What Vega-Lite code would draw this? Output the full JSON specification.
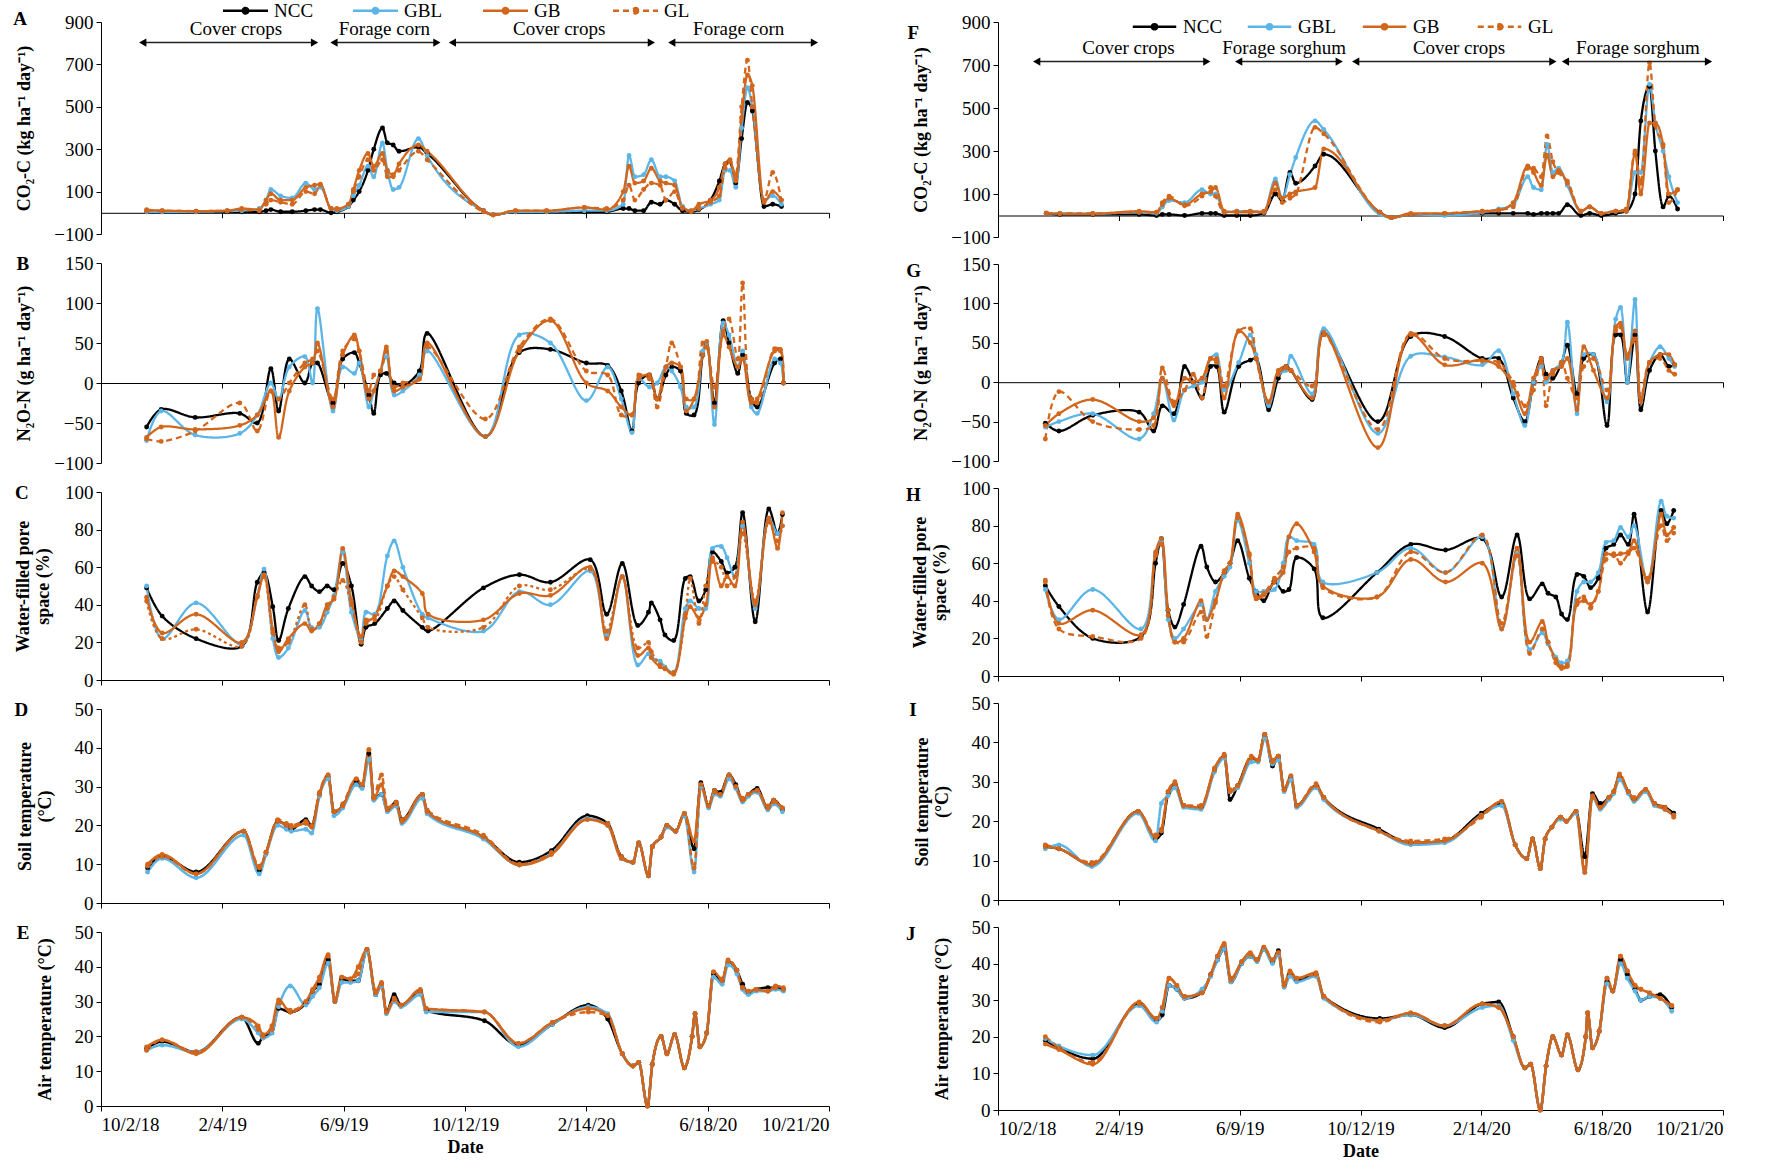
{
"$schema": "https://vega.github.io/schema/vega-lite/v6.json",
"background": "white",
"padding": {"left": 13, "top": 1, "right": 0, "bottom": 0},
"config": {
 "view": {"stroke": null},
 "font": "Liberation Serif",
 "axis": {"grid": false, "domainColor": "#000", "tickColor": "#000", "labelColor": "#000", "titleColor": "#000", "labelFont": "Liberation Serif", "titleFont": "Liberation Serif", "labelFontSize": 19, "titleFontSize": 18, "titleFontWeight": "bold", "tickSize": 5, "labelPadding": 3, "titlePadding": 20},
 "title": {"font": "Liberation Serif", "fontSize": 19, "fontWeight": "bold", "color": "#000"},
 "text": {"font": "Liberation Serif"}
},
"datasets": {
"ann": [
 {"p":"A","s":"2018-11-14","e":"2019-05-10","m":"2019-02-18","y":803,"ty":866,"t":"Cover crops"},
 {"p":"A","s":"2019-05-30","e":"2019-09-13","m":"2019-07-21","y":803,"ty":866,"t":"Forage corn"},
 {"p":"A","s":"2019-09-29","e":"2020-04-21","m":"2020-01-17","y":803,"ty":866,"t":"Cover crops"},
 {"p":"A","s":"2020-05-12","e":"2020-10-06","m":"2020-07-20","y":803,"ty":866,"t":"Forage corn"},
 {"p":"F","s":"2018-11-11","e":"2019-05-06","m":"2019-02-14","y":716,"ty":781,"t":"Cover crops"},
 {"p":"F","s":"2019-06-08","e":"2019-09-20","m":"2019-07-25","y":716,"ty":781,"t":"Forage sorghum"},
 {"p":"F","s":"2019-10-07","e":"2020-04-28","m":"2020-01-22","y":716,"ty":781,"t":"Cover crops"},
 {"p":"F","s":"2020-05-11","e":"2020-10-06","m":"2020-07-25","y":716,"ty":781,"t":"Forage sorghum"}
],
"m": [
{"p":"A","d":"2018-11-18","NCC":5,"GBL":5,"GB":15,"GL":10},
{"p":"A","d":"2018-12-04","NCC":5,"GBL":5,"GB":10,"GL":10},
{"p":"A","d":"2019-01-08","NCC":5,"GBL":5,"GB":8,"GL":8},
{"p":"A","d":"2019-02-09","NCC":5,"GBL":8,"GB":10,"GL":10},
{"p":"A","d":"2019-02-24","NCC":5,"GBL":10,"GB":20,"GL":15},
{"p":"A","d":"2019-03-14","NCC":5,"GBL":20,"GB":15,"GL":10},
{"p":"A","d":"2019-03-21","NCC":10,"GBL":60,"GB":60,"GL":40},
{"p":"A","d":"2019-03-26","NCC":15,"GBL":110,"GB":90,"GL":60},
{"p":"A","d":"2019-04-05","NCC":5,"GBL":80,"GB":60,"GL":50},
{"p":"A","d":"2019-04-17","NCC":5,"GBL":70,"GB":60,"GL":40},
{"p":"A","d":"2019-05-01","NCC":10,"GBL":140,"GB":120,"GL":100},
{"p":"A","d":"2019-05-10","NCC":15,"GBL":110,"GB":130,"GL":90},
{"p":"A","d":"2019-05-16","NCC":15,"GBL":120,"GB":135,"GL":130},
{"p":"A","d":"2019-05-27","NCC":0,"GBL":20,"GB":20,"GL":20},
{"p":"A","d":"2019-06-02","NCC":5,"GBL":10,"GB":20,"GL":15},
{"p":"A","d":"2019-06-14","NCC":30,"GBL":30,"GB":40,"GL":40},
{"p":"A","d":"2019-06-19","NCC":60,"GBL":80,"GB":110,"GL":100},
{"p":"A","d":"2019-06-25","NCC":100,"GBL":130,"GB":200,"GL":170},
{"p":"A","d":"2019-07-04","NCC":200,"GBL":220,"GB":280,"GL":250},
{"p":"A","d":"2019-07-10","NCC":300,"GBL":170,"GB":220,"GL":200},
{"p":"A","d":"2019-07-19","NCC":400,"GBL":330,"GB":280,"GL":250},
{"p":"A","d":"2019-07-24","NCC":330,"GBL":200,"GB":200,"GL":170},
{"p":"A","d":"2019-07-30","NCC":320,"GBL":110,"GB":180,"GL":170},
{"p":"A","d":"2019-08-05","NCC":290,"GBL":120,"GB":230,"GL":200},
{"p":"A","d":"2019-08-25","NCC":310,"GBL":350,"GB":320,"GL":290},
{"p":"A","d":"2019-09-03","NCC":280,"GBL":270,"GB":290,"GL":250},
{"p":"A","d":"2019-10-31","NCC":10,"GBL":10,"GB":10,"GL":5},
{"p":"A","d":"2019-11-10","NCC":-10,"GBL":-10,"GB":-10,"GL":-10},
{"p":"A","d":"2019-12-03","NCC":5,"GBL":5,"GB":10,"GL":10},
{"p":"A","d":"2020-01-04","NCC":5,"GBL":5,"GB":10,"GL":10},
{"p":"A","d":"2020-02-12","NCC":5,"GBL":10,"GB":25,"GL":25},
{"p":"A","d":"2020-03-06","NCC":5,"GBL":10,"GB":15,"GL":20},
{"p":"A","d":"2020-03-23","NCC":20,"GBL":40,"GB":100,"GL":60},
{"p":"A","d":"2020-03-29","NCC":20,"GBL":270,"GB":220,"GL":130},
{"p":"A","d":"2020-04-04","NCC":10,"GBL":170,"GB":140,"GL":60},
{"p":"A","d":"2020-04-13","NCC":10,"GBL":180,"GB":150,"GL":110},
{"p":"A","d":"2020-04-21","NCC":50,"GBL":250,"GB":210,"GL":140},
{"p":"A","d":"2020-04-30","NCC":40,"GBL":170,"GB":150,"GL":130},
{"p":"A","d":"2020-05-06","NCC":60,"GBL":170,"GB":140,"GL":60},
{"p":"A","d":"2020-05-15","NCC":40,"GBL":150,"GB":130,"GL":100},
{"p":"A","d":"2020-05-23","NCC":10,"GBL":30,"GB":25,"GL":20},
{"p":"A","d":"2020-06-01","NCC":5,"GBL":10,"GB":10,"GL":5},
{"p":"A","d":"2020-06-09","NCC":15,"GBL":20,"GB":40,"GL":20},
{"p":"A","d":"2020-06-21","NCC":60,"GBL":40,"GB":60,"GL":50},
{"p":"A","d":"2020-06-30","NCC":150,"GBL":60,"GB":120,"GL":80},
{"p":"A","d":"2020-07-06","NCC":230,"GBL":200,"GB":230,"GL":210},
{"p":"A","d":"2020-07-11","NCC":240,"GBL":200,"GB":250,"GL":240},
{"p":"A","d":"2020-07-17","NCC":140,"GBL":120,"GB":150,"GL":180},
{"p":"A","d":"2020-07-23","NCC":350,"GBL":400,"GB":450,"GL":500},
{"p":"A","d":"2020-07-29","NCC":520,"GBL":590,"GB":650,"GL":720},
{"p":"A","d":"2020-08-03","NCC":480,"GBL":500,"GB":600,"GL":500},
{"p":"A","d":"2020-08-15","NCC":30,"GBL":60,"GB":50,"GL":60},
{"p":"A","d":"2020-08-24","NCC":40,"GBL":80,"GB":100,"GL":190},
{"p":"A","d":"2020-09-02","NCC":30,"GBL":40,"GB":60,"GL":60},

{"p":"B","d":"2018-11-18","NCC":-55,"GBL":-72,"GB":-68,"GL":-70},
{"p":"B","d":"2018-12-03","NCC":-33,"GBL":-35,"GB":-55,"GL":-73},
{"p":"B","d":"2019-01-07","NCC":-43,"GBL":-65,"GB":-58,"GL":-60},
{"p":"B","d":"2019-02-22","NCC":-38,"GBL":-63,"GB":-53,"GL":-25},
{"p":"B","d":"2019-03-12","NCC":-50,"GBL":-40,"GB":-40,"GL":-60},
{"p":"B","d":"2019-03-26","NCC":18,"GBL":0,"GB":-10,"GL":-10},
{"p":"B","d":"2019-04-03","NCC":-35,"GBL":-20,"GB":-68,"GL":-20},
{"p":"B","d":"2019-04-14","NCC":30,"GBL":20,"GB":-10,"GL":0},
{"p":"B","d":"2019-04-30","NCC":0,"GBL":33,"GB":20,"GL":25},
{"p":"B","d":"2019-05-08","NCC":25,"GBL":0,"GB":25,"GL":30},
{"p":"B","d":"2019-05-13","NCC":25,"GBL":93,"GB":50,"GL":40},
{"p":"B","d":"2019-05-29","NCC":-25,"GBL":-35,"GB":-30,"GL":-20},
{"p":"B","d":"2019-06-08","NCC":30,"GBL":20,"GB":35,"GL":40},
{"p":"B","d":"2019-06-20","NCC":38,"GBL":12,"GB":60,"GL":55},
{"p":"B","d":"2019-06-25","NCC":25,"GBL":25,"GB":40,"GL":40},
{"p":"B","d":"2019-07-05","NCC":-15,"GBL":-30,"GB":-20,"GL":-10},
{"p":"B","d":"2019-07-10","NCC":-38,"GBL":-10,"GB":-10,"GL":10},
{"p":"B","d":"2019-07-17","NCC":10,"GBL":15,"GB":15,"GL":15},
{"p":"B","d":"2019-07-23","NCC":12,"GBL":33,"GB":45,"GL":40},
{"p":"B","d":"2019-07-31","NCC":0,"GBL":-15,"GB":-10,"GL":-5},
{"p":"B","d":"2019-08-09","NCC":-3,"GBL":-10,"GB":-5,"GL":0},
{"p":"B","d":"2019-08-26","NCC":15,"GBL":10,"GB":5,"GL":5},
{"p":"B","d":"2019-09-03","NCC":62,"GBL":40,"GB":50,"GL":45},
{"p":"B","d":"2019-11-02","NCC":-67,"GBL":-67,"GB":-67,"GL":-45},
{"p":"B","d":"2019-12-07","NCC":38,"GBL":60,"GB":40,"GL":45},
{"p":"B","d":"2020-01-08","NCC":42,"GBL":50,"GB":78,"GL":80},
{"p":"B","d":"2020-02-14","NCC":25,"GBL":-22,"GB":0,"GL":15},
{"p":"B","d":"2020-03-07","NCC":22,"GBL":20,"GB":-10,"GL":10},
{"p":"B","d":"2020-03-21","NCC":-10,"GBL":-20,"GB":-30,"GL":-40},
{"p":"B","d":"2020-04-01","NCC":-60,"GBL":-62,"GB":-40,"GL":-40},
{"p":"B","d":"2020-04-08","NCC":0,"GBL":5,"GB":5,"GL":10},
{"p":"B","d":"2020-04-19","NCC":10,"GBL":-5,"GB":10,"GL":5},
{"p":"B","d":"2020-04-27","NCC":-20,"GBL":0,"GB":-20,"GL":-30},
{"p":"B","d":"2020-05-06","NCC":10,"GBL":20,"GB":20,"GL":20},
{"p":"B","d":"2020-05-12","NCC":20,"GBL":15,"GB":25,"GL":50},
{"p":"B","d":"2020-05-21","NCC":15,"GBL":-5,"GB":20,"GL":20},
{"p":"B","d":"2020-05-27","NCC":-38,"GBL":-30,"GB":-35,"GL":-20},
{"p":"B","d":"2020-06-04","NCC":-40,"GBL":-30,"GB":-20,"GL":-20},
{"p":"B","d":"2020-06-13","NCC":35,"GBL":40,"GB":35,"GL":50},
{"p":"B","d":"2020-06-17","NCC":50,"GBL":50,"GB":52,"GL":45},
{"p":"B","d":"2020-06-25","NCC":-25,"GBL":-52,"GB":-30,"GL":-5},
{"p":"B","d":"2020-07-04","NCC":78,"GBL":75,"GB":60,"GL":65},
{"p":"B","d":"2020-07-10","NCC":50,"GBL":60,"GB":45,"GL":80},
{"p":"B","d":"2020-07-19","NCC":12,"GBL":20,"GB":20,"GL":30},
{"p":"B","d":"2020-07-24","NCC":35,"GBL":40,"GB":30,"GL":125},
{"p":"B","d":"2020-08-02","NCC":-20,"GBL":-30,"GB":-25,"GL":-20},
{"p":"B","d":"2020-08-08","NCC":-30,"GBL":-38,"GB":-20,"GL":-25},
{"p":"B","d":"2020-08-26","NCC":25,"GBL":30,"GB":40,"GL":43},
{"p":"B","d":"2020-09-01","NCC":30,"GBL":25,"GB":40,"GL":42},
{"p":"B","d":"2020-09-04","NCC":0,"GBL":0,"GB":0,"GL":0},

{"p":"C","d":"2018-11-18","NCC":49,"GBL":50,"GB":44,"GL":42},
{"p":"C","d":"2018-12-04","NCC":34,"GBL":22,"GB":25,"GL":22},
{"p":"C","d":"2019-01-08","NCC":22,"GBL":41,"GB":35,"GL":27},
{"p":"C","d":"2019-02-24","NCC":18,"GBL":19,"GB":20,"GL":18},
{"p":"C","d":"2019-03-12","NCC":52,"GBL":45,"GB":44,"GL":45},
{"p":"C","d":"2019-03-19","NCC":57,"GBL":59,"GB":56,"GL":55},
{"p":"C","d":"2019-03-28","NCC":39,"GBL":22,"GB":27,"GL":25},
{"p":"C","d":"2019-04-03","NCC":21,"GBL":12,"GB":15,"GL":17},
{"p":"C","d":"2019-04-13","NCC":38,"GBL":17,"GB":22,"GL":20},
{"p":"C","d":"2019-04-30","NCC":55,"GBL":37,"GB":30,"GL":40},
{"p":"C","d":"2019-05-07","NCC":50,"GBL":28,"GB":26,"GL":27},
{"p":"C","d":"2019-05-15","NCC":47,"GBL":28,"GB":30,"GL":30},
{"p":"C","d":"2019-05-23","NCC":50,"GBL":36,"GB":40,"GL":38},
{"p":"C","d":"2019-05-30","NCC":48,"GBL":45,"GB":43,"GL":44},
{"p":"C","d":"2019-06-08","NCC":62,"GBL":68,"GB":70,"GL":53},
{"p":"C","d":"2019-06-17","NCC":50,"GBL":36,"GB":42,"GL":40},
{"p":"C","d":"2019-06-27","NCC":19,"GBL":22,"GB":23,"GL":20},
{"p":"C","d":"2019-07-02","NCC":28,"GBL":36,"GB":30,"GL":32},
{"p":"C","d":"2019-07-11","NCC":30,"GBL":35,"GB":34,"GL":32},
{"p":"C","d":"2019-07-24","NCC":38,"GBL":66,"GB":50,"GL":50},
{"p":"C","d":"2019-07-31","NCC":42,"GBL":74,"GB":58,"GL":55},
{"p":"C","d":"2019-08-09","NCC":37,"GBL":60,"GB":55,"GL":48},
{"p":"C","d":"2019-08-29","NCC":28,"GBL":35,"GB":46,"GL":33},
{"p":"C","d":"2019-09-04","NCC":26,"GBL":33,"GB":35,"GL":28},
{"p":"C","d":"2019-10-31","NCC":49,"GBL":26,"GB":32,"GL":28},
{"p":"C","d":"2019-12-07","NCC":56,"GBL":47,"GB":46,"GL":50},
{"p":"C","d":"2020-01-08","NCC":52,"GBL":40,"GB":45,"GL":48},
{"p":"C","d":"2020-02-18","NCC":64,"GBL":58,"GB":60,"GL":59},
{"p":"C","d":"2020-03-06","NCC":35,"GBL":24,"GB":22,"GL":26},
{"p":"C","d":"2020-03-22","NCC":62,"GBL":55,"GB":55,"GL":55},
{"p":"C","d":"2020-04-07","NCC":29,"GBL":8,"GB":13,"GL":17},
{"p":"C","d":"2020-04-18","NCC":36,"GBL":14,"GB":17,"GL":20},
{"p":"C","d":"2020-04-21","NCC":41,"GBL":12,"GB":12,"GL":15},
{"p":"C","d":"2020-04-30","NCC":32,"GBL":10,"GB":7,"GL":8},
{"p":"C","d":"2020-05-05","NCC":24,"GBL":7,"GB":6,"GL":6},
{"p":"C","d":"2020-05-14","NCC":21,"GBL":4,"GB":3,"GL":4},
{"p":"C","d":"2020-05-26","NCC":54,"GBL":38,"GB":33,"GL":35},
{"p":"C","d":"2020-05-31","NCC":55,"GBL":42,"GB":39,"GL":54},
{"p":"C","d":"2020-06-09","NCC":42,"GBL":38,"GB":33,"GL":30},
{"p":"C","d":"2020-06-16","NCC":48,"GBL":38,"GB":40,"GL":50},
{"p":"C","d":"2020-06-23","NCC":68,"GBL":70,"GB":65,"GL":63},
{"p":"C","d":"2020-07-02","NCC":63,"GBL":71,"GB":50,"GL":60},
{"p":"C","d":"2020-07-08","NCC":57,"GBL":65,"GB":55,"GL":50},
{"p":"C","d":"2020-07-16","NCC":60,"GBL":55,"GB":50,"GL":55},
{"p":"C","d":"2020-07-24","NCC":89,"GBL":82,"GB":84,"GL":78},
{"p":"C","d":"2020-08-06","NCC":31,"GBL":38,"GB":40,"GL":42},
{"p":"C","d":"2020-08-20","NCC":91,"GBL":86,"GB":86,"GL":84},
{"p":"C","d":"2020-08-29","NCC":78,"GBL":78,"GB":70,"GL":74},
{"p":"C","d":"2020-09-03","NCC":88,"GBL":82,"GB":89,"GL":82},

{"p":"D","d":"2018-11-19","NCC":9,"GBL":8,"GB":10,"GL":9.5},
{"p":"D","d":"2018-12-04","NCC":12,"GBL":11.5,"GB":12.5,"GL":12},
{"p":"D","d":"2019-01-08","NCC":8,"GBL":6.5,"GB":7.5,"GL":7.5},
{"p":"D","d":"2019-02-26","NCC":18.5,"GBL":17.5,"GB":18.5,"GL":18.5},
{"p":"D","d":"2019-03-14","NCC":8.5,"GBL":7.5,"GB":9,"GL":9.5},
{"p":"D","d":"2019-03-21","NCC":13,"GBL":12.5,"GB":13,"GL":13},
{"p":"D","d":"2019-04-02","NCC":21,"GBL":20,"GB":21,"GL":21.5},
{"p":"D","d":"2019-04-11","NCC":20,"GBL":19,"GB":20,"GL":20.5},
{"p":"D","d":"2019-04-16","NCC":19,"GBL":18.5,"GB":19.5,"GL":20},
{"p":"D","d":"2019-05-01","NCC":21.5,"GBL":19,"GB":20.5,"GL":21},
{"p":"D","d":"2019-05-07","NCC":20,"GBL":18,"GB":19.5,"GL":20},
{"p":"D","d":"2019-05-15","NCC":28,"GBL":27.5,"GB":28,"GL":28.5},
{"p":"D","d":"2019-05-24","NCC":32.5,"GBL":32,"GB":33,"GL":33},
{"p":"D","d":"2019-05-30","NCC":23.5,"GBL":22.5,"GB":23.5,"GL":23.5},
{"p":"D","d":"2019-06-08","NCC":25,"GBL":24.5,"GB":25,"GL":25.5},
{"p":"D","d":"2019-06-22","NCC":31.5,"GBL":30.5,"GB":32,"GL":32},
{"p":"D","d":"2019-06-28","NCC":30,"GBL":29.5,"GB":30.5,"GL":30.5},
{"p":"D","d":"2019-07-05","NCC":38.5,"GBL":37,"GB":39.5,"GL":39.5},
{"p":"D","d":"2019-07-10","NCC":27,"GBL":26.5,"GB":27,"GL":27.5},
{"p":"D","d":"2019-07-18","NCC":28,"GBL":28,"GB":30.5,"GL":33},
{"p":"D","d":"2019-07-24","NCC":24,"GBL":23.5,"GB":24,"GL":24.5},
{"p":"D","d":"2019-08-02","NCC":26,"GBL":25,"GB":25.5,"GL":26},
{"p":"D","d":"2019-08-08","NCC":21.5,"GBL":20.5,"GB":21,"GL":21.5},
{"p":"D","d":"2019-08-29","NCC":28,"GBL":27,"GB":28,"GL":28},
{"p":"D","d":"2019-09-03","NCC":23.5,"GBL":23,"GB":23.5,"GL":24},
{"p":"D","d":"2019-10-31","NCC":17,"GBL":16.5,"GB":17,"GL":17.5},
{"p":"D","d":"2019-12-07","NCC":10.5,"GBL":9.8,"GB":9.8,"GL":10},
{"p":"D","d":"2020-01-09","NCC":13.5,"GBL":12.8,"GB":12.5,"GL":13},
{"p":"D","d":"2020-02-15","NCC":22.5,"GBL":21.8,"GB":21.5,"GL":21.5},
{"p":"D","d":"2020-03-07","NCC":20.5,"GBL":20,"GB":20,"GL":20.5},
{"p":"D","d":"2020-03-21","NCC":12,"GBL":11.5,"GB":11.5,"GL":12},
{"p":"D","d":"2020-04-02","NCC":10.5,"GBL":10.5,"GB":10.5,"GL":10.5},
{"p":"D","d":"2020-04-08","NCC":15.5,"GBL":15.5,"GB":15.5,"GL":15.5},
{"p":"D","d":"2020-04-18","NCC":7,"GBL":7,"GB":7,"GL":7},
{"p":"D","d":"2020-04-22","NCC":14.5,"GBL":14.5,"GB":14.5,"GL":14.5},
{"p":"D","d":"2020-05-01","NCC":17,"GBL":17,"GB":17,"GL":17},
{"p":"D","d":"2020-05-07","NCC":20,"GBL":19.5,"GB":20,"GL":20},
{"p":"D","d":"2020-05-16","NCC":18.5,"GBL":18.5,"GB":18.5,"GL":18.5},
{"p":"D","d":"2020-05-25","NCC":23,"GBL":22.5,"GB":23,"GL":23},
{"p":"D","d":"2020-06-04","NCC":14,"GBL":8,"GB":16,"GL":9},
{"p":"D","d":"2020-06-11","NCC":31,"GBL":30,"GB":30.5,"GL":30.5},
{"p":"D","d":"2020-06-19","NCC":25,"GBL":24.5,"GB":25,"GL":25},
{"p":"D","d":"2020-06-25","NCC":29,"GBL":28,"GB":29,"GL":28.5},
{"p":"D","d":"2020-07-01","NCC":28.5,"GBL":27.5,"GB":28,"GL":28},
{"p":"D","d":"2020-07-10","NCC":33,"GBL":32,"GB":33,"GL":33},
{"p":"D","d":"2020-07-17","NCC":30.5,"GBL":29.5,"GB":30,"GL":30},
{"p":"D","d":"2020-07-24","NCC":26.5,"GBL":26,"GB":26.5,"GL":27},
{"p":"D","d":"2020-07-30","NCC":28,"GBL":27.5,"GB":28,"GL":28},
{"p":"D","d":"2020-08-08","NCC":29.5,"GBL":28.5,"GB":29,"GL":29},
{"p":"D","d":"2020-08-19","NCC":24.5,"GBL":24,"GB":24.5,"GL":25},
{"p":"D","d":"2020-08-25","NCC":26.5,"GBL":25.5,"GB":26,"GL":26.5},
{"p":"D","d":"2020-09-03","NCC":24,"GBL":23.5,"GB":24.5,"GL":24.5},

{"p":"E","d":"2018-11-18","NCC":16.5,"GBL":16,"GB":17,"GL":16},
{"p":"E","d":"2018-12-04","NCC":18.5,"GBL":17.5,"GB":19,"GL":19},
{"p":"E","d":"2019-01-08","NCC":15.5,"GBL":15.5,"GB":15,"GL":15.5},
{"p":"E","d":"2019-02-24","NCC":25.5,"GBL":25,"GB":25.5,"GL":25.5},
{"p":"E","d":"2019-03-13","NCC":18,"GBL":21,"GB":23,"GL":22},
{"p":"E","d":"2019-03-18","NCC":20,"GBL":19.5,"GB":20.5,"GL":20},
{"p":"E","d":"2019-03-27","NCC":21,"GBL":21,"GB":23,"GL":22},
{"p":"E","d":"2019-04-03","NCC":28,"GBL":28.5,"GB":30.5,"GL":29.5},
{"p":"E","d":"2019-04-15","NCC":27,"GBL":34.5,"GB":27,"GL":27.5},
{"p":"E","d":"2019-05-01","NCC":29.5,"GBL":29,"GB":30,"GL":30},
{"p":"E","d":"2019-05-08","NCC":33,"GBL":31.5,"GB":33.5,"GL":33},
{"p":"E","d":"2019-05-15","NCC":35,"GBL":34,"GB":37,"GL":36},
{"p":"E","d":"2019-05-24","NCC":42,"GBL":41,"GB":43.5,"GL":43},
{"p":"E","d":"2019-05-31","NCC":30,"GBL":30,"GB":30.5,"GL":30},
{"p":"E","d":"2019-06-07","NCC":36.5,"GBL":35.5,"GB":37,"GL":37},
{"p":"E","d":"2019-06-16","NCC":36,"GBL":35.5,"GB":36.5,"GL":36.5},
{"p":"E","d":"2019-06-24","NCC":36,"GBL":36,"GB":40,"GL":38},
{"p":"E","d":"2019-07-03","NCC":45,"GBL":44.5,"GB":45,"GL":45},
{"p":"E","d":"2019-07-12","NCC":32,"GBL":32,"GB":33,"GL":32.5},
{"p":"E","d":"2019-07-18","NCC":35,"GBL":34.5,"GB":35.5,"GL":35},
{"p":"E","d":"2019-07-23","NCC":27,"GBL":26.5,"GB":27,"GL":27},
{"p":"E","d":"2019-07-31","NCC":32,"GBL":30,"GB":30.5,"GL":31},
{"p":"E","d":"2019-08-07","NCC":29,"GBL":28.5,"GB":29,"GL":29},
{"p":"E","d":"2019-08-27","NCC":33,"GBL":32,"GB":33.5,"GL":33},
{"p":"E","d":"2019-09-02","NCC":27.5,"GBL":27,"GB":28,"GL":28},
{"p":"E","d":"2019-11-01","NCC":24.5,"GBL":27,"GB":27,"GL":27},
{"p":"E","d":"2019-12-06","NCC":17.5,"GBL":17,"GB":18,"GL":18},
{"p":"E","d":"2020-01-10","NCC":23.5,"GBL":23.5,"GB":24,"GL":24},
{"p":"E","d":"2020-02-16","NCC":29,"GBL":28.5,"GB":28,"GL":27},
{"p":"E","d":"2020-03-07","NCC":25,"GBL":26.5,"GB":26,"GL":26},
{"p":"E","d":"2020-03-22","NCC":15,"GBL":15,"GB":15,"GL":15},
{"p":"E","d":"2020-04-02","NCC":11.5,"GBL":11.5,"GB":11.5,"GL":11.5},
{"p":"E","d":"2020-04-08","NCC":12.5,"GBL":12.5,"GB":12.5,"GL":12.5},
{"p":"E","d":"2020-04-17","NCC":0,"GBL":0,"GB":0,"GL":0},
{"p":"E","d":"2020-04-22","NCC":12,"GBL":12,"GB":12,"GL":12},
{"p":"E","d":"2020-05-01","NCC":20,"GBL":20,"GB":20,"GL":20},
{"p":"E","d":"2020-05-07","NCC":15,"GBL":15,"GB":15,"GL":15},
{"p":"E","d":"2020-05-15","NCC":20.5,"GBL":20.5,"GB":20.5,"GL":20.5},
{"p":"E","d":"2020-05-25","NCC":11,"GBL":11,"GB":11,"GL":11},
{"p":"E","d":"2020-06-02","NCC":20,"GBL":20,"GB":20,"GL":20},
{"p":"E","d":"2020-06-05","NCC":26.5,"GBL":26.5,"GB":26.5,"GL":26.5},
{"p":"E","d":"2020-06-10","NCC":17,"GBL":17,"GB":17,"GL":17},
{"p":"E","d":"2020-06-17","NCC":21,"GBL":21,"GB":21,"GL":21},
{"p":"E","d":"2020-06-24","NCC":38,"GBL":37,"GB":38.5,"GL":38.5},
{"p":"E","d":"2020-07-03","NCC":36,"GBL":35,"GB":36.5,"GL":36},
{"p":"E","d":"2020-07-09","NCC":41.5,"GBL":40.5,"GB":41.5,"GL":42},
{"p":"E","d":"2020-07-18","NCC":39,"GBL":38,"GB":39,"GL":39},
{"p":"E","d":"2020-07-24","NCC":35,"GBL":33.5,"GB":34,"GL":34},
{"p":"E","d":"2020-07-30","NCC":32.5,"GBL":32,"GB":33,"GL":33},
{"p":"E","d":"2020-08-07","NCC":33.5,"GBL":33,"GB":33.5,"GL":33.5},
{"p":"E","d":"2020-08-19","NCC":34,"GBL":33,"GB":33,"GL":33},
{"p":"E","d":"2020-08-27","NCC":34,"GBL":33.5,"GB":34.5,"GL":34},
{"p":"E","d":"2020-09-04","NCC":33.5,"GBL":33,"GB":34,"GL":33.5},

{"p":"F","d":"2018-11-21","NCC":10,"GBL":10,"GB":12,"GL":10},
{"p":"F","d":"2018-12-05","NCC":5,"GBL":10,"GB":8,"GL":10},
{"p":"F","d":"2019-01-08","NCC":5,"GBL":8,"GB":8,"GL":10},
{"p":"F","d":"2019-02-25","NCC":5,"GBL":15,"GB":20,"GL":15},
{"p":"F","d":"2019-03-15","NCC":0,"GBL":10,"GB":15,"GL":15},
{"p":"F","d":"2019-03-21","NCC":5,"GBL":40,"GB":50,"GL":60},
{"p":"F","d":"2019-03-28","NCC":5,"GBL":70,"GB":80,"GL":90},
{"p":"F","d":"2019-04-13","NCC":0,"GBL":60,"GB":50,"GL":45},
{"p":"F","d":"2019-05-01","NCC":10,"GBL":120,"GB":100,"GL":90},
{"p":"F","d":"2019-05-10","NCC":10,"GBL":100,"GB":110,"GL":130},
{"p":"F","d":"2019-05-15","NCC":10,"GBL":100,"GB":130,"GL":90},
{"p":"F","d":"2019-05-24","NCC":0,"GBL":15,"GB":20,"GL":15},
{"p":"F","d":"2019-06-06","NCC":0,"GBL":20,"GB":15,"GL":20},
{"p":"F","d":"2019-06-20","NCC":0,"GBL":20,"GB":15,"GL":20},
{"p":"F","d":"2019-07-04","NCC":10,"GBL":15,"GB":20,"GL":15},
{"p":"F","d":"2019-07-16","NCC":100,"GBL":170,"GB":150,"GL":120},
{"p":"F","d":"2019-07-23","NCC":70,"GBL":80,"GB":80,"GL":60},
{"p":"F","d":"2019-07-31","NCC":200,"GBL":190,"GB":100,"GL":80},
{"p":"F","d":"2019-08-06","NCC":150,"GBL":270,"GB":110,"GL":100},
{"p":"F","d":"2019-08-26","NCC":230,"GBL":440,"GB":130,"GL":410},
{"p":"F","d":"2019-09-04","NCC":285,"GBL":400,"GB":310,"GL":380},
{"p":"F","d":"2019-11-01","NCC":15,"GBL":5,"GB":15,"GL":15},
{"p":"F","d":"2019-11-13","NCC":-10,"GBL":-10,"GB":-10,"GL":-10},
{"p":"F","d":"2019-12-03","NCC":5,"GBL":5,"GB":10,"GL":5},
{"p":"F","d":"2020-01-07","NCC":5,"GBL":0,"GB":10,"GL":10},
{"p":"F","d":"2020-02-15","NCC":10,"GBL":15,"GB":20,"GL":20},
{"p":"F","d":"2020-03-03","NCC":10,"GBL":30,"GB":25,"GL":25},
{"p":"F","d":"2020-03-18","NCC":10,"GBL":50,"GB":60,"GL":40},
{"p":"F","d":"2020-04-02","NCC":10,"GBL":180,"GB":230,"GL":220},
{"p":"F","d":"2020-04-08","NCC":5,"GBL":130,"GB":200,"GL":220},
{"p":"F","d":"2020-04-16","NCC":10,"GBL":120,"GB":140,"GL":180},
{"p":"F","d":"2020-04-22","NCC":10,"GBL":330,"GB":280,"GL":370},
{"p":"F","d":"2020-04-28","NCC":10,"GBL":200,"GB":180,"GL":250},
{"p":"F","d":"2020-05-04","NCC":10,"GBL":220,"GB":210,"GL":200},
{"p":"F","d":"2020-05-13","NCC":50,"GBL":140,"GB":150,"GL":160},
{"p":"F","d":"2020-05-27","NCC":0,"GBL":20,"GB":20,"GL":20},
{"p":"F","d":"2020-06-05","NCC":10,"GBL":40,"GB":40,"GL":40},
{"p":"F","d":"2020-06-17","NCC":0,"GBL":10,"GB":10,"GL":10},
{"p":"F","d":"2020-07-02","NCC":10,"GBL":20,"GB":20,"GL":20},
{"p":"F","d":"2020-07-13","NCC":20,"GBL":20,"GB":20,"GL":30},
{"p":"F","d":"2020-07-22","NCC":100,"GBL":200,"GB":290,"GL":300},
{"p":"F","d":"2020-07-28","NCC":440,"GBL":200,"GB":100,"GL":150},
{"p":"F","d":"2020-08-06","NCC":600,"GBL":610,"GB":430,"GL":710},
{"p":"F","d":"2020-08-12","NCC":300,"GBL":430,"GB":430,"GL":420},
{"p":"F","d":"2020-08-20","NCC":40,"GBL":300,"GB":330,"GL":320},
{"p":"F","d":"2020-08-26","NCC":90,"GBL":180,"GB":100,"GL":60},
{"p":"F","d":"2020-09-04","NCC":30,"GBL":60,"GB":120,"GL":120},

{"p":"G","d":"2018-11-20","NCC":-52,"GBL":-57,"GB":-55,"GL":-72},
{"p":"G","d":"2018-12-04","NCC":-62,"GBL":-50,"GB":-40,"GL":-12},
{"p":"G","d":"2019-01-08","NCC":-42,"GBL":-40,"GB":-22,"GL":-50},
{"p":"G","d":"2019-02-25","NCC":-38,"GBL":-72,"GB":-50,"GL":-60},
{"p":"G","d":"2019-03-12","NCC":-62,"GBL":-40,"GB":-45,"GL":-55},
{"p":"G","d":"2019-03-21","NCC":-30,"GBL":5,"GB":5,"GL":18},
{"p":"G","d":"2019-04-02","NCC":-40,"GBL":-48,"GB":-30,"GL":-25},
{"p":"G","d":"2019-04-13","NCC":20,"GBL":-10,"GB":5,"GL":-10},
{"p":"G","d":"2019-04-22","NCC":0,"GBL":-5,"GB":0,"GL":10},
{"p":"G","d":"2019-05-01","NCC":-20,"GBL":0,"GB":5,"GL":-20},
{"p":"G","d":"2019-05-10","NCC":20,"GBL":30,"GB":30,"GL":30},
{"p":"G","d":"2019-05-16","NCC":20,"GBL":35,"GB":25,"GL":30},
{"p":"G","d":"2019-05-24","NCC":-38,"GBL":-10,"GB":-20,"GL":-5},
{"p":"G","d":"2019-06-08","NCC":20,"GBL":25,"GB":65,"GL":65},
{"p":"G","d":"2019-06-20","NCC":28,"GBL":60,"GB":50,"GL":68},
{"p":"G","d":"2019-06-26","NCC":30,"GBL":35,"GB":30,"GL":30},
{"p":"G","d":"2019-07-09","NCC":-35,"GBL":-30,"GB":-25,"GL":-25},
{"p":"G","d":"2019-07-19","NCC":5,"GBL":10,"GB":15,"GL":10},
{"p":"G","d":"2019-07-27","NCC":20,"GBL":15,"GB":20,"GL":18},
{"p":"G","d":"2019-08-01","NCC":15,"GBL":33,"GB":15,"GL":15},
{"p":"G","d":"2019-08-23","NCC":-22,"GBL":-15,"GB":-20,"GL":-5},
{"p":"G","d":"2019-09-04","NCC":62,"GBL":68,"GB":63,"GL":60},
{"p":"G","d":"2019-10-30","NCC":-50,"GBL":-65,"GB":-83,"GL":-60},
{"p":"G","d":"2019-12-03","NCC":58,"GBL":33,"GB":60,"GL":62},
{"p":"G","d":"2020-01-07","NCC":58,"GBL":32,"GB":22,"GL":30},
{"p":"G","d":"2020-02-15","NCC":30,"GBL":22,"GB":28,"GL":27},
{"p":"G","d":"2020-03-03","NCC":30,"GBL":40,"GB":20,"GL":25},
{"p":"G","d":"2020-03-18","NCC":-20,"GBL":-15,"GB":-5,"GL":0},
{"p":"G","d":"2020-03-30","NCC":-50,"GBL":-55,"GB":-40,"GL":-30},
{"p":"G","d":"2020-04-08","NCC":0,"GBL":0,"GB":5,"GL":-10},
{"p":"G","d":"2020-04-16","NCC":30,"GBL":20,"GB":25,"GL":30},
{"p":"G","d":"2020-04-21","NCC":10,"GBL":0,"GB":5,"GL":-30},
{"p":"G","d":"2020-04-28","NCC":5,"GBL":15,"GB":15,"GL":10},
{"p":"G","d":"2020-05-07","NCC":25,"GBL":25,"GB":20,"GL":25},
{"p":"G","d":"2020-05-13","NCC":47,"GBL":76,"GB":30,"GL":5},
{"p":"G","d":"2020-05-23","NCC":-15,"GBL":-40,"GB":-35,"GL":-20},
{"p":"G","d":"2020-05-30","NCC":30,"GBL":35,"GB":45,"GL":20},
{"p":"G","d":"2020-06-09","NCC":35,"GBL":35,"GB":15,"GL":30},
{"p":"G","d":"2020-06-23","NCC":-55,"GBL":-25,"GB":-20,"GL":-10},
{"p":"G","d":"2020-07-02","NCC":60,"GBL":80,"GB":70,"GL":65},
{"p":"G","d":"2020-07-07","NCC":60,"GBL":95,"GB":75,"GL":70},
{"p":"G","d":"2020-07-14","NCC":0,"GBL":0,"GB":30,"GL":35},
{"p":"G","d":"2020-07-22","NCC":60,"GBL":105,"GB":65,"GL":55},
{"p":"G","d":"2020-07-28","NCC":-35,"GBL":-25,"GB":-25,"GL":-20},
{"p":"G","d":"2020-08-06","NCC":15,"GBL":25,"GB":25,"GL":25},
{"p":"G","d":"2020-08-17","NCC":35,"GBL":45,"GB":35,"GL":30},
{"p":"G","d":"2020-08-26","NCC":20,"GBL":30,"GB":35,"GL":15},
{"p":"G","d":"2020-09-01","NCC":22,"GBL":20,"GB":22,"GL":10},

{"p":"H","d":"2018-11-20","NCC":48,"GBL":46,"GB":51,"GL":50},
{"p":"H","d":"2018-12-04","NCC":37,"GBL":30,"GB":28,"GL":25},
{"p":"H","d":"2019-01-08","NCC":20,"GBL":46,"GB":35,"GL":21},
{"p":"H","d":"2019-02-27","NCC":21,"GBL":25,"GB":22,"GL":20},
{"p":"H","d":"2019-03-14","NCC":60,"GBL":65,"GB":66,"GL":64},
{"p":"H","d":"2019-03-20","NCC":73,"GBL":72,"GB":73,"GL":70},
{"p":"H","d":"2019-03-27","NCC":35,"GBL":30,"GB":35,"GL":32},
{"p":"H","d":"2019-04-03","NCC":26,"GBL":20,"GB":18,"GL":18},
{"p":"H","d":"2019-04-12","NCC":38,"GBL":25,"GB":20,"GL":18},
{"p":"H","d":"2019-04-30","NCC":69,"GBL":38,"GB":40,"GL":34},
{"p":"H","d":"2019-05-06","NCC":58,"GBL":30,"GB":30,"GL":21},
{"p":"H","d":"2019-05-15","NCC":50,"GBL":45,"GB":40,"GL":39},
{"p":"H","d":"2019-05-24","NCC":55,"GBL":53,"GB":55,"GL":56},
{"p":"H","d":"2019-05-30","NCC":60,"GBL":58,"GB":60,"GL":60},
{"p":"H","d":"2019-06-07","NCC":72,"GBL":83,"GB":86,"GL":84},
{"p":"H","d":"2019-06-19","NCC":52,"GBL":60,"GB":65,"GL":64},
{"p":"H","d":"2019-06-26","NCC":45,"GBL":45,"GB":41,"GL":42},
{"p":"H","d":"2019-07-04","NCC":40,"GBL":45,"GB":43,"GL":44},
{"p":"H","d":"2019-07-15","NCC":50,"GBL":46,"GB":50,"GL":52},
{"p":"H","d":"2019-07-24","NCC":45,"GBL":60,"GB":55,"GL":58},
{"p":"H","d":"2019-07-30","NCC":46,"GBL":74,"GB":74,"GL":66},
{"p":"H","d":"2019-08-07","NCC":63,"GBL":72,"GB":81,"GL":68},
{"p":"H","d":"2019-08-25","NCC":57,"GBL":70,"GB":66,"GL":68},
{"p":"H","d":"2019-09-03","NCC":31,"GBL":50,"GB":48,"GL":47},
{"p":"H","d":"2019-10-29","NCC":55,"GBL":55,"GB":42,"GL":42},
{"p":"H","d":"2019-12-03","NCC":70,"GBL":68,"GB":62,"GL":66},
{"p":"H","d":"2020-01-08","NCC":67,"GBL":55,"GB":50,"GL":55},
{"p":"H","d":"2020-02-15","NCC":73,"GBL":74,"GB":60,"GL":75},
{"p":"H","d":"2020-03-06","NCC":42,"GBL":25,"GB":25,"GL":28},
{"p":"H","d":"2020-03-22","NCC":75,"GBL":65,"GB":68,"GL":64},
{"p":"H","d":"2020-04-04","NCC":41,"GBL":14,"GB":18,"GL":12},
{"p":"H","d":"2020-04-17","NCC":49,"GBL":23,"GB":29,"GL":25},
{"p":"H","d":"2020-04-23","NCC":44,"GBL":17,"GB":18,"GL":18},
{"p":"H","d":"2020-05-01","NCC":42,"GBL":10,"GB":9,"GL":7},
{"p":"H","d":"2020-05-07","NCC":33,"GBL":7,"GB":5,"GL":4},
{"p":"H","d":"2020-05-13","NCC":30,"GBL":8,"GB":6,"GL":5},
{"p":"H","d":"2020-05-23","NCC":54,"GBL":45,"GB":38,"GL":40},
{"p":"H","d":"2020-05-30","NCC":53,"GBL":50,"GB":40,"GL":42},
{"p":"H","d":"2020-06-06","NCC":47,"GBL":50,"GB":38,"GL":36},
{"p":"H","d":"2020-06-14","NCC":52,"GBL":55,"GB":45,"GL":45},
{"p":"H","d":"2020-06-22","NCC":68,"GBL":71,"GB":65,"GL":62},
{"p":"H","d":"2020-06-30","NCC":70,"GBL":72,"GB":64,"GL":65},
{"p":"H","d":"2020-07-07","NCC":75,"GBL":79,"GB":65,"GL":60},
{"p":"H","d":"2020-07-15","NCC":70,"GBL":74,"GB":66,"GL":65},
{"p":"H","d":"2020-07-21","NCC":86,"GBL":80,"GB":72,"GL":68},
{"p":"H","d":"2020-08-04","NCC":34,"GBL":50,"GB":50,"GL":52},
{"p":"H","d":"2020-08-18","NCC":88,"GBL":93,"GB":86,"GL":80},
{"p":"H","d":"2020-08-24","NCC":81,"GBL":85,"GB":75,"GL":72},
{"p":"H","d":"2020-08-31","NCC":88,"GBL":84,"GB":79,"GL":76},

{"p":"I","d":"2018-11-20","NCC":13.5,"GBL":13,"GB":13.5,"GL":14},
{"p":"I","d":"2018-12-04","NCC":13,"GBL":14,"GB":13,"GL":13},
{"p":"I","d":"2019-01-07","NCC":9,"GBL":8.5,"GB":9,"GL":9.5},
{"p":"I","d":"2019-02-24","NCC":22.5,"GBL":22,"GB":22.5,"GL":22.5},
{"p":"I","d":"2019-03-14","NCC":15.5,"GBL":15,"GB":16,"GL":16.5},
{"p":"I","d":"2019-03-20","NCC":17,"GBL":24.5,"GB":18,"GL":17.5},
{"p":"I","d":"2019-03-27","NCC":27,"GBL":26.5,"GB":27.5,"GL":27.5},
{"p":"I","d":"2019-04-03","NCC":29.5,"GBL":28.5,"GB":29.5,"GL":30},
{"p":"I","d":"2019-04-12","NCC":24,"GBL":23.5,"GB":24,"GL":24},
{"p":"I","d":"2019-04-30","NCC":23.5,"GBL":23,"GB":23.5,"GL":24},
{"p":"I","d":"2019-05-14","NCC":33,"GBL":32.5,"GB":33.5,"GL":33},
{"p":"I","d":"2019-05-24","NCC":36.5,"GBL":36,"GB":36.5,"GL":37},
{"p":"I","d":"2019-05-30","NCC":25.5,"GBL":27.5,"GB":27.5,"GL":28},
{"p":"I","d":"2019-06-07","NCC":29,"GBL":28.5,"GB":29,"GL":29},
{"p":"I","d":"2019-06-21","NCC":36,"GBL":35,"GB":36,"GL":36.5},
{"p":"I","d":"2019-06-28","NCC":35.5,"GBL":35,"GB":35.5,"GL":35.5},
{"p":"I","d":"2019-07-05","NCC":42,"GBL":41,"GB":42,"GL":42},
{"p":"I","d":"2019-07-13","NCC":34,"GBL":34.5,"GB":35.5,"GL":35},
{"p":"I","d":"2019-07-19","NCC":36.5,"GBL":35.5,"GB":36.5,"GL":36.5},
{"p":"I","d":"2019-07-25","NCC":28,"GBL":27.5,"GB":28,"GL":28},
{"p":"I","d":"2019-08-01","NCC":31,"GBL":30.5,"GB":31.5,"GL":31.5},
{"p":"I","d":"2019-08-07","NCC":24,"GBL":23.5,"GB":24,"GL":24},
{"p":"I","d":"2019-08-27","NCC":29,"GBL":28.5,"GB":29,"GL":29.5},
{"p":"I","d":"2019-09-04","NCC":26,"GBL":25.5,"GB":26,"GL":26},
{"p":"I","d":"2019-10-31","NCC":18,"GBL":17.5,"GB":17.5,"GL":17.5},
{"p":"I","d":"2019-12-03","NCC":14.5,"GBL":14,"GB":14.5,"GL":15},
{"p":"I","d":"2020-01-07","NCC":15,"GBL":14.5,"GB":15,"GL":15.5},
{"p":"I","d":"2020-02-14","NCC":22,"GBL":21.5,"GB":21.5,"GL":21},
{"p":"I","d":"2020-03-06","NCC":24.5,"GBL":24,"GB":25,"GL":25},
{"p":"I","d":"2020-03-20","NCC":14,"GBL":14,"GB":14,"GL":14},
{"p":"I","d":"2020-04-01","NCC":10.5,"GBL":10.5,"GB":10.5,"GL":10.5},
{"p":"I","d":"2020-04-07","NCC":15.5,"GBL":15.5,"GB":15.5,"GL":15.5},
{"p":"I","d":"2020-04-15","NCC":8,"GBL":8,"GB":8,"GL":8},
{"p":"I","d":"2020-04-20","NCC":15.5,"GBL":15.5,"GB":15.5,"GL":15.5},
{"p":"I","d":"2020-04-27","NCC":18.5,"GBL":18.5,"GB":18.5,"GL":18.5},
{"p":"I","d":"2020-05-06","NCC":21,"GBL":20.5,"GB":21,"GL":21},
{"p":"I","d":"2020-05-12","NCC":20,"GBL":20,"GB":20,"GL":20},
{"p":"I","d":"2020-05-22","NCC":22.5,"GBL":22,"GB":22.5,"GL":22.5},
{"p":"I","d":"2020-05-31","NCC":11,"GBL":7,"GB":7,"GL":8},
{"p":"I","d":"2020-06-08","NCC":27,"GBL":26,"GB":26.5,"GL":26},
{"p":"I","d":"2020-06-16","NCC":24.5,"GBL":23,"GB":23.5,"GL":23.5},
{"p":"I","d":"2020-06-25","NCC":26,"GBL":25.5,"GB":26,"GL":26},
{"p":"I","d":"2020-06-30","NCC":27.5,"GBL":27,"GB":27.5,"GL":27.5},
{"p":"I","d":"2020-07-06","NCC":31.5,"GBL":30.5,"GB":31.5,"GL":32},
{"p":"I","d":"2020-07-15","NCC":27.5,"GBL":27,"GB":27.5,"GL":27.5},
{"p":"I","d":"2020-07-21","NCC":25.5,"GBL":25,"GB":25.5,"GL":26},
{"p":"I","d":"2020-08-02","NCC":28,"GBL":27.5,"GB":28,"GL":28},
{"p":"I","d":"2020-08-11","NCC":24.5,"GBL":24,"GB":24.5,"GL":24.5},
{"p":"I","d":"2020-08-22","NCC":23.5,"GBL":23,"GB":23,"GL":23.5},
{"p":"I","d":"2020-08-31","NCC":22,"GBL":21.5,"GB":21.5,"GL":21},

{"p":"J","d":"2018-11-20","NCC":19,"GBL":19.5,"GB":18,"GL":20},
{"p":"J","d":"2018-12-04","NCC":17,"GBL":17.5,"GB":16.5,"GL":17},
{"p":"J","d":"2019-01-08","NCC":14,"GBL":15,"GB":12.5,"GL":13},
{"p":"J","d":"2019-02-25","NCC":29,"GBL":28.5,"GB":29.5,"GL":29},
{"p":"J","d":"2019-03-15","NCC":24.5,"GBL":24,"GB":25,"GL":25},
{"p":"J","d":"2019-03-21","NCC":26,"GBL":27,"GB":28,"GL":28},
{"p":"J","d":"2019-03-28","NCC":34,"GBL":34,"GB":36,"GL":36},
{"p":"J","d":"2019-04-05","NCC":33,"GBL":33,"GB":34,"GL":34},
{"p":"J","d":"2019-04-13","NCC":30.5,"GBL":30.5,"GB":31,"GL":31},
{"p":"J","d":"2019-05-01","NCC":32,"GBL":33,"GB":32,"GL":32},
{"p":"J","d":"2019-05-10","NCC":37,"GBL":36.5,"GB":37,"GL":37},
{"p":"J","d":"2019-05-17","NCC":41,"GBL":41,"GB":42,"GL":42},
{"p":"J","d":"2019-05-24","NCC":44,"GBL":44,"GB":45.5,"GL":45},
{"p":"J","d":"2019-05-31","NCC":35,"GBL":35,"GB":36,"GL":35.5},
{"p":"J","d":"2019-06-11","NCC":40,"GBL":40,"GB":40.5,"GL":40.5},
{"p":"J","d":"2019-06-20","NCC":42,"GBL":42,"GB":43,"GL":42.5},
{"p":"J","d":"2019-06-27","NCC":41,"GBL":40.5,"GB":41,"GL":41},
{"p":"J","d":"2019-07-04","NCC":44,"GBL":44,"GB":44.5,"GL":44.5},
{"p":"J","d":"2019-07-13","NCC":40.5,"GBL":40,"GB":41,"GL":41},
{"p":"J","d":"2019-07-19","NCC":43.5,"GBL":42.5,"GB":43,"GL":43},
{"p":"J","d":"2019-07-25","NCC":34,"GBL":33.5,"GB":34.5,"GL":34},
{"p":"J","d":"2019-07-31","NCC":37,"GBL":36.5,"GB":38,"GL":37.5},
{"p":"J","d":"2019-08-07","NCC":35.5,"GBL":35,"GB":36,"GL":36},
{"p":"J","d":"2019-08-27","NCC":37,"GBL":36.5,"GB":37.5,"GL":37},
{"p":"J","d":"2019-09-04","NCC":31,"GBL":30.5,"GB":31,"GL":31},
{"p":"J","d":"2019-11-01","NCC":25,"GBL":24.5,"GB":24.5,"GL":24},
{"p":"J","d":"2019-12-03","NCC":26,"GBL":26,"GB":26.5,"GL":26.5},
{"p":"J","d":"2020-01-07","NCC":22.5,"GBL":23,"GB":23,"GL":23},
{"p":"J","d":"2020-02-15","NCC":29,"GBL":28,"GB":29,"GL":29},
{"p":"J","d":"2020-03-03","NCC":29.5,"GBL":28.5,"GB":28,"GL":28},
{"p":"J","d":"2020-03-18","NCC":20,"GBL":19,"GB":20,"GL":20},
{"p":"J","d":"2020-03-30","NCC":11.5,"GBL":11.5,"GB":11.5,"GL":11.5},
{"p":"J","d":"2020-04-05","NCC":12.5,"GBL":12.5,"GB":12.5,"GL":12.5},
{"p":"J","d":"2020-04-15","NCC":0,"GBL":0,"GB":0,"GL":0},
{"p":"J","d":"2020-04-21","NCC":12,"GBL":12,"GB":12,"GL":12},
{"p":"J","d":"2020-04-28","NCC":20,"GBL":20,"GB":20,"GL":20},
{"p":"J","d":"2020-05-07","NCC":15,"GBL":15,"GB":15,"GL":15},
{"p":"J","d":"2020-05-13","NCC":20.5,"GBL":20.5,"GB":20.5,"GL":20.5},
{"p":"J","d":"2020-05-24","NCC":11,"GBL":11,"GB":11,"GL":11},
{"p":"J","d":"2020-06-01","NCC":20,"GBL":20,"GB":20,"GL":20},
{"p":"J","d":"2020-06-03","NCC":26.5,"GBL":26.5,"GB":26.5,"GL":26.5},
{"p":"J","d":"2020-06-08","NCC":17,"GBL":17,"GB":17,"GL":17},
{"p":"J","d":"2020-06-15","NCC":21.5,"GBL":21.5,"GB":21.5,"GL":21.5},
{"p":"J","d":"2020-06-23","NCC":35,"GBL":34.5,"GB":36,"GL":36},
{"p":"J","d":"2020-06-29","NCC":32.5,"GBL":32.5,"GB":32.5,"GL":32.5},
{"p":"J","d":"2020-07-07","NCC":41,"GBL":40,"GB":42,"GL":42},
{"p":"J","d":"2020-07-14","NCC":37,"GBL":36,"GB":38,"GL":38},
{"p":"J","d":"2020-07-22","NCC":33,"GBL":32.5,"GB":34,"GL":34},
{"p":"J","d":"2020-07-28","NCC":30,"GBL":30,"GB":33,"GL":33},
{"p":"J","d":"2020-08-06","NCC":31,"GBL":31,"GB":32,"GL":32},
{"p":"J","d":"2020-08-17","NCC":31.5,"GBL":30.5,"GB":30.5,"GL":30.5},
{"p":"J","d":"2020-08-29","NCC":28,"GBL":27,"GB":28.5,"GL":28.5}
]
},
"spacing": 75,
"resolve": {"scale": {"x": "independent", "y": "independent", "color": "independent", "strokeDash": "independent"}, "legend": {"color": "independent", "strokeDash": "independent"}},
"hconcat": [
{
"vconcat": [
 {"width": 728, "height": 212,
  "title": {"text": "A", "orient": "left", "anchor": "end", "angle": 0, "baseline": "middle", "offset": 6, "dx": 31, "dy": 18},
  "layer": [
   {"data": {"name": "m"}, "transform": [{"filter": {"field": "p", "equal": "A"}}, {"fold": ["NCC", "GBL", "GB", "GL"], "as": ["s", "v"]}],
    "mark": {"type": "line", "interpolate": "monotone", "strokeWidth": 2.3, "point": {"filled": true, "size": 24}},
    "encoding": {
     "x": {"field": "d", "type": "temporal", "scale": {"type": "utc", "domain": [{"year": 2018, "month": 10, "date": 2, "utc": true}, {"year": 2020, "month": 10, "date": 21, "utc": true}]}, "axis": {"values": [{"year": 2018, "month": 10, "date": 2, "utc": true}, {"year": 2019, "month": 2, "date": 4, "utc": true}, {"year": 2019, "month": 6, "date": 9, "utc": true}, {"year": 2019, "month": 10, "date": 12, "utc": true}, {"year": 2020, "month": 2, "date": 14, "utc": true}, {"year": 2020, "month": 6, "date": 18, "utc": true}, {"year": 2020, "month": 10, "date": 21, "utc": true}], "labels": false, "title": null, "offset": -21.2}},
     "y": {"field": "v", "type": "quantitative", "scale": {"domain": [-100, 900], "nice": false}, "axis": {"values": [-100, 100, 300, 500, 700, 900], "title": "CO₂-C (kg ha⁻¹ day⁻¹)"}},
     "color": {"field": "s", "type": "nominal", "scale": {"domain": ["NCC", "GBL", "GB", "GL"], "range": ["#000000", "#5BB5E6", "#D2661C", "#D2661C"]}, "legend": {"orient": "none", "legendX": 135, "legendY": -21, "direction": "horizontal", "title": null, "symbolType": "M-3,0H3M0.36,0A0.36,0.36,0,1,1,-0.36,0A0.36,0.36,0,1,1,0.36,0", "symbolSize": 225, "symbolStrokeWidth": 2.5, "labelFontSize": 19, "labelFont": "Liberation Serif", "labelColor": "#000", "columnPadding": 34, "gridAlign": "all", "labelOffset": 19}},
     "strokeDash": {"field": "s", "type": "nominal", "scale": {"domain": ["NCC", "GBL", "GB", "GL"], "range": [[1, 0], [1, 0], [1, 0], [6, 4]]}, "legend": {"orient": "none", "legendX": 135, "legendY": -21, "direction": "horizontal", "title": null, "symbolType": "M-3,0H3M0.36,0A0.36,0.36,0,1,1,-0.36,0A0.36,0.36,0,1,1,0.36,0", "symbolSize": 225, "symbolStrokeWidth": 2.5, "labelFontSize": 19, "labelFont": "Liberation Serif", "labelColor": "#000", "columnPadding": 34, "gridAlign": "all", "labelOffset": 19}}
    }},
   {"data": {"name": "ann"}, "transform": [{"filter": {"field": "p", "equal": "A"}}],
    "mark": {"type": "rule", "color": "#222", "strokeWidth": 1.5},
    "encoding": {"x": {"field": "s", "type": "temporal"}, "x2": {"field": "e"}, "y": {"field": "y", "type": "quantitative"}}},
   {"data": {"name": "ann"}, "transform": [{"filter": {"field": "p", "equal": "A"}}],
    "mark": {"type": "point", "shape": "triangle-left", "filled": true, "color": "#000", "size": 70, "opacity": 1},
    "encoding": {"x": {"field": "s", "type": "temporal"}, "y": {"field": "y", "type": "quantitative"}}},
   {"data": {"name": "ann"}, "transform": [{"filter": {"field": "p", "equal": "A"}}],
    "mark": {"type": "point", "shape": "triangle-right", "filled": true, "color": "#000", "size": 70, "opacity": 1},
    "encoding": {"x": {"field": "e", "type": "temporal"}, "y": {"field": "y", "type": "quantitative"}}},
   {"data": {"name": "ann"}, "transform": [{"filter": {"field": "p", "equal": "A"}}],
    "mark": {"type": "text", "fontSize": 19, "font": "Liberation Serif", "color": "#000", "baseline": "middle"},
    "encoding": {"x": {"field": "m", "type": "temporal"}, "y": {"field": "ty", "type": "quantitative"}, "text": {"field": "t"}}}
  ]},
 {"width": 728, "height": 200,
  "title": {"text": "B", "orient": "left", "anchor": "end", "angle": 0, "baseline": "middle", "offset": 6, "dx": 32, "dy": 10},
  "data": {"name": "m"}, "transform": [{"filter": {"field": "p", "equal": "B"}}, {"fold": ["NCC", "GBL", "GB", "GL"], "as": ["s", "v"]}],
  "mark": {"type": "line", "interpolate": "catmull-rom", "strokeWidth": 2.3, "point": {"filled": true, "size": 24}},
  "encoding": {
   "x": {"field": "d", "type": "temporal", "scale": {"type": "utc", "domain": [{"year": 2018, "month": 10, "date": 2, "utc": true}, {"year": 2020, "month": 10, "date": 21, "utc": true}]}, "axis": {"values": [{"year": 2018, "month": 10, "date": 2, "utc": true}, {"year": 2019, "month": 2, "date": 4, "utc": true}, {"year": 2019, "month": 6, "date": 9, "utc": true}, {"year": 2019, "month": 10, "date": 12, "utc": true}, {"year": 2020, "month": 2, "date": 14, "utc": true}, {"year": 2020, "month": 6, "date": 18, "utc": true}, {"year": 2020, "month": 10, "date": 21, "utc": true}], "labels": false, "title": null, "offset": -80}},
   "y": {"field": "v", "type": "quantitative", "scale": {"domain": [-100, 150], "nice": false}, "axis": {"values": [-100, -50, 0, 50, 100, 150], "title": "N₂O-N (g ha⁻¹ day⁻¹)"}},
   "color": {"field": "s", "type": "nominal", "scale": {"domain": ["NCC", "GBL", "GB", "GL"], "range": ["#000000", "#5BB5E6", "#D2661C", "#D2661C"]}, "legend": null},
   "strokeDash": {"field": "s", "type": "nominal", "scale": {"domain": ["NCC", "GBL", "GB", "GL"], "range": [[1, 0], [1, 0], [1, 0], [6, 4]]}, "legend": null}
  }},
 {"width": 728, "height": 188,
  "title": {"text": "C", "orient": "left", "anchor": "end", "angle": 0, "baseline": "middle", "offset": 6, "dx": 34, "dy": 10},
  "data": {"name": "m"}, "transform": [{"filter": {"field": "p", "equal": "C"}}, {"fold": ["NCC", "GBL", "GB", "GL"], "as": ["s", "v"]}],
  "mark": {"type": "line", "interpolate": "catmull-rom", "strokeWidth": 2.3, "point": {"filled": true, "size": 24}},
  "encoding": {
   "x": {"field": "d", "type": "temporal", "scale": {"type": "utc", "domain": [{"year": 2018, "month": 10, "date": 2, "utc": true}, {"year": 2020, "month": 10, "date": 21, "utc": true}]}, "axis": {"values": [{"year": 2018, "month": 10, "date": 2, "utc": true}, {"year": 2019, "month": 2, "date": 4, "utc": true}, {"year": 2019, "month": 6, "date": 9, "utc": true}, {"year": 2019, "month": 10, "date": 12, "utc": true}, {"year": 2020, "month": 2, "date": 14, "utc": true}, {"year": 2020, "month": 6, "date": 18, "utc": true}, {"year": 2020, "month": 10, "date": 21, "utc": true}], "labels": false, "title": null}},
   "y": {"field": "v", "type": "quantitative", "scale": {"domain": [0, 100], "nice": false}, "axis": {"values": [0, 20, 40, 60, 80, 100], "title": ["Water-filled pore", "space (%)"], "titlePadding": 12}},
   "color": {"field": "s", "type": "nominal", "scale": {"domain": ["NCC", "GBL", "GB", "GL"], "range": ["#000000", "#5BB5E6", "#D2661C", "#D2661C"]}, "legend": null},
   "strokeDash": {"field": "s", "type": "nominal", "scale": {"domain": ["NCC", "GBL", "GB", "GL"], "range": [[1, 0], [1, 0], [1, 0], [3, 3]]}, "legend": null}
  }},
 {"width": 728, "height": 194,
  "title": {"text": "D", "orient": "left", "anchor": "end", "angle": 0, "baseline": "middle", "offset": 6, "dx": 32, "dy": 10},
  "data": {"name": "m"}, "transform": [{"filter": {"field": "p", "equal": "D"}}, {"fold": ["NCC", "GBL", "GB", "GL"], "as": ["s", "v"]}],
  "mark": {"type": "line", "interpolate": "monotone", "strokeWidth": 2.5, "point": {"filled": true, "size": 24}},
  "encoding": {
   "x": {"field": "d", "type": "temporal", "scale": {"type": "utc", "domain": [{"year": 2018, "month": 10, "date": 2, "utc": true}, {"year": 2020, "month": 10, "date": 21, "utc": true}]}, "axis": {"values": [{"year": 2018, "month": 10, "date": 2, "utc": true}, {"year": 2019, "month": 2, "date": 4, "utc": true}, {"year": 2019, "month": 6, "date": 9, "utc": true}, {"year": 2019, "month": 10, "date": 12, "utc": true}, {"year": 2020, "month": 2, "date": 14, "utc": true}, {"year": 2020, "month": 6, "date": 18, "utc": true}, {"year": 2020, "month": 10, "date": 21, "utc": true}], "labels": false, "title": null}},
   "y": {"field": "v", "type": "quantitative", "scale": {"domain": [0, 50], "nice": false}, "axis": {"values": [0, 10, 20, 30, 40, 50], "title": ["Soil temperature", "(°C)"]}},
   "color": {"field": "s", "type": "nominal", "scale": {"domain": ["NCC", "GBL", "GB", "GL"], "range": ["#000000", "#5BB5E6", "#D2661C", "#D2661C"]}, "legend": null},
   "strokeDash": {"field": "s", "type": "nominal", "scale": {"domain": ["NCC", "GBL", "GB", "GL"], "range": [[1, 0], [1, 0], [1, 0], [6, 4]]}, "legend": null}
  }},
 {"width": 728, "height": 174,
  "title": {"text": "E", "orient": "left", "anchor": "end", "angle": 0, "baseline": "middle", "offset": 6, "dx": 12, "dy": 10},
  "data": {"name": "m"}, "transform": [{"filter": {"field": "p", "equal": "E"}}, {"fold": ["NCC", "GBL", "GB", "GL"], "as": ["s", "v"]}],
  "mark": {"type": "line", "interpolate": "monotone", "strokeWidth": 2.5, "point": {"filled": true, "size": 24}},
  "encoding": {
   "x": {"field": "d", "type": "temporal", "scale": {"type": "utc", "domain": [{"year": 2018, "month": 10, "date": 2, "utc": true}, {"year": 2020, "month": 10, "date": 21, "utc": true}]}, "axis": {"values": [{"year": 2018, "month": 10, "date": 2, "utc": true}, {"year": 2019, "month": 2, "date": 4, "utc": true}, {"year": 2019, "month": 6, "date": 9, "utc": true}, {"year": 2019, "month": 10, "date": 12, "utc": true}, {"year": 2020, "month": 2, "date": 14, "utc": true}, {"year": 2020, "month": 6, "date": 18, "utc": true}, {"year": 2020, "month": 10, "date": 21, "utc": true}], "format": "%-m/%-d/%y", "title": "Date", "titlePadding": 4, "labelPadding": 4}},
   "y": {"field": "v", "type": "quantitative", "scale": {"domain": [0, 50], "nice": false}, "axis": {"values": [0, 10, 20, 30, 40, 50], "title": "Air temperature (°C)"}},
   "color": {"field": "s", "type": "nominal", "scale": {"domain": ["NCC", "GBL", "GB", "GL"], "range": ["#000000", "#5BB5E6", "#D2661C", "#D2661C"]}, "legend": null},
   "strokeDash": {"field": "s", "type": "nominal", "scale": {"domain": ["NCC", "GBL", "GB", "GL"], "range": [[1, 0], [1, 0], [1, 0], [6, 4]]}, "legend": null}
  }}
],
"spacing": 29, "bounds": "flush",
"resolve": {"scale": {"x": "independent", "y": "independent", "color": "independent", "strokeDash": "independent"}, "legend": {"color": "independent", "strokeDash": "independent"}}
},
{
"vconcat": [
 {"width": 725, "height": 215,
  "title": {"text": "F", "orient": "left", "anchor": "end", "angle": 0, "baseline": "middle", "offset": 6, "dx": 24, "dy": 20},
  "layer": [
   {"data": {"name": "m"}, "transform": [{"filter": {"field": "p", "equal": "F"}}, {"fold": ["NCC", "GBL", "GB", "GL"], "as": ["s", "v"]}],
    "mark": {"type": "line", "interpolate": "monotone", "strokeWidth": 2.3, "point": {"filled": true, "size": 24}},
    "encoding": {
     "x": {"field": "d", "type": "temporal", "scale": {"type": "utc", "domain": [{"year": 2018, "month": 10, "date": 2, "utc": true}, {"year": 2020, "month": 10, "date": 21, "utc": true}]}, "axis": {"values": [{"year": 2018, "month": 10, "date": 2, "utc": true}, {"year": 2019, "month": 2, "date": 4, "utc": true}, {"year": 2019, "month": 6, "date": 9, "utc": true}, {"year": 2019, "month": 10, "date": 12, "utc": true}, {"year": 2020, "month": 2, "date": 14, "utc": true}, {"year": 2020, "month": 6, "date": 18, "utc": true}, {"year": 2020, "month": 10, "date": 21, "utc": true}], "labels": false, "title": null, "offset": -21.5}},
     "y": {"field": "v", "type": "quantitative", "scale": {"domain": [-100, 900], "nice": false}, "axis": {"values": [-100, 100, 300, 500, 700, 900], "title": "CO₂-C (kg ha⁻¹ day⁻¹)"}},
     "color": {"field": "s", "type": "nominal", "scale": {"domain": ["NCC", "GBL", "GB", "GL"], "range": ["#000000", "#5BB5E6", "#D2661C", "#D2661C"]}, "legend": {"orient": "none", "legendX": 147, "legendY": -5, "direction": "horizontal", "title": null, "symbolType": "M-3,0H3M0.36,0A0.36,0.36,0,1,1,-0.36,0A0.36,0.36,0,1,1,0.36,0", "symbolSize": 210, "symbolStrokeWidth": 2.5, "labelFontSize": 19, "labelFont": "Liberation Serif", "labelColor": "#000", "columnPadding": 19, "gridAlign": "all", "labelOffset": 19}},
     "strokeDash": {"field": "s", "type": "nominal", "scale": {"domain": ["NCC", "GBL", "GB", "GL"], "range": [[1, 0], [1, 0], [1, 0], [6, 4]]}, "legend": {"orient": "none", "legendX": 147, "legendY": -5, "direction": "horizontal", "title": null, "symbolType": "M-3,0H3M0.36,0A0.36,0.36,0,1,1,-0.36,0A0.36,0.36,0,1,1,0.36,0", "symbolSize": 210, "symbolStrokeWidth": 2.5, "labelFontSize": 19, "labelFont": "Liberation Serif", "labelColor": "#000", "columnPadding": 19, "gridAlign": "all", "labelOffset": 19}}
    }},
   {"data": {"name": "ann"}, "transform": [{"filter": {"field": "p", "equal": "F"}}],
    "mark": {"type": "rule", "color": "#222", "strokeWidth": 1.5},
    "encoding": {"x": {"field": "s", "type": "temporal"}, "x2": {"field": "e"}, "y": {"field": "y", "type": "quantitative"}}},
   {"data": {"name": "ann"}, "transform": [{"filter": {"field": "p", "equal": "F"}}],
    "mark": {"type": "point", "shape": "triangle-left", "filled": true, "color": "#000", "size": 70, "opacity": 1},
    "encoding": {"x": {"field": "s", "type": "temporal"}, "y": {"field": "y", "type": "quantitative"}}},
   {"data": {"name": "ann"}, "transform": [{"filter": {"field": "p", "equal": "F"}}],
    "mark": {"type": "point", "shape": "triangle-right", "filled": true, "color": "#000", "size": 70, "opacity": 1},
    "encoding": {"x": {"field": "e", "type": "temporal"}, "y": {"field": "y", "type": "quantitative"}}},
   {"data": {"name": "ann"}, "transform": [{"filter": {"field": "p", "equal": "F"}}],
    "mark": {"type": "text", "fontSize": 19, "font": "Liberation Serif", "color": "#000", "baseline": "middle"},
    "encoding": {"x": {"field": "m", "type": "temporal"}, "y": {"field": "ty", "type": "quantitative"}, "text": {"field": "t"}}}
  ]},
 {"width": 725, "height": 197,
  "title": {"text": "G", "orient": "left", "anchor": "end", "angle": 0, "baseline": "middle", "offset": 6, "dx": 29, "dy": 16},
  "data": {"name": "m"}, "transform": [{"filter": {"field": "p", "equal": "G"}}, {"fold": ["NCC", "GBL", "GB", "GL"], "as": ["s", "v"]}],
  "mark": {"type": "line", "interpolate": "catmull-rom", "strokeWidth": 2.3, "point": {"filled": true, "size": 24}},
  "encoding": {
   "x": {"field": "d", "type": "temporal", "scale": {"type": "utc", "domain": [{"year": 2018, "month": 10, "date": 2, "utc": true}, {"year": 2020, "month": 10, "date": 21, "utc": true}]}, "axis": {"values": [{"year": 2018, "month": 10, "date": 2, "utc": true}, {"year": 2019, "month": 2, "date": 4, "utc": true}, {"year": 2019, "month": 6, "date": 9, "utc": true}, {"year": 2019, "month": 10, "date": 12, "utc": true}, {"year": 2020, "month": 2, "date": 14, "utc": true}, {"year": 2020, "month": 6, "date": 18, "utc": true}, {"year": 2020, "month": 10, "date": 21, "utc": true}], "labels": false, "title": null, "offset": -78.8}},
   "y": {"field": "v", "type": "quantitative", "scale": {"domain": [-100, 150], "nice": false}, "axis": {"values": [-100, -50, 0, 50, 100, 150], "title": "N₂O-N (g ha⁻¹ day⁻¹)"}},
   "color": {"field": "s", "type": "nominal", "scale": {"domain": ["NCC", "GBL", "GB", "GL"], "range": ["#000000", "#5BB5E6", "#D2661C", "#D2661C"]}, "legend": null},
   "strokeDash": {"field": "s", "type": "nominal", "scale": {"domain": ["NCC", "GBL", "GB", "GL"], "range": [[1, 0], [1, 0], [1, 0], [6, 4]]}, "legend": null}
  }},
 {"width": 725, "height": 188,
  "title": {"text": "H", "orient": "left", "anchor": "end", "angle": 0, "baseline": "middle", "offset": 6, "dx": 30, "dy": 16},
  "data": {"name": "m"}, "transform": [{"filter": {"field": "p", "equal": "H"}}, {"fold": ["NCC", "GBL", "GB", "GL"], "as": ["s", "v"]}],
  "mark": {"type": "line", "interpolate": "catmull-rom", "strokeWidth": 2.3, "point": {"filled": true, "size": 24}},
  "encoding": {
   "x": {"field": "d", "type": "temporal", "scale": {"type": "utc", "domain": [{"year": 2018, "month": 10, "date": 2, "utc": true}, {"year": 2020, "month": 10, "date": 21, "utc": true}]}, "axis": {"values": [{"year": 2018, "month": 10, "date": 2, "utc": true}, {"year": 2019, "month": 2, "date": 4, "utc": true}, {"year": 2019, "month": 6, "date": 9, "utc": true}, {"year": 2019, "month": 10, "date": 12, "utc": true}, {"year": 2020, "month": 2, "date": 14, "utc": true}, {"year": 2020, "month": 6, "date": 18, "utc": true}, {"year": 2020, "month": 10, "date": 21, "utc": true}], "labels": false, "title": null}},
   "y": {"field": "v", "type": "quantitative", "scale": {"domain": [0, 100], "nice": false}, "axis": {"values": [0, 20, 40, 60, 80, 100], "title": ["Water-filled pore", "space (%)"], "titlePadding": 12}},
   "color": {"field": "s", "type": "nominal", "scale": {"domain": ["NCC", "GBL", "GB", "GL"], "range": ["#000000", "#5BB5E6", "#D2661C", "#D2661C"]}, "legend": null},
   "strokeDash": {"field": "s", "type": "nominal", "scale": {"domain": ["NCC", "GBL", "GB", "GL"], "range": [[1, 0], [1, 0], [1, 0], [6, 4]]}, "legend": null}
  }},
 {"width": 725, "height": 197,
  "title": {"text": "I", "orient": "left", "anchor": "end", "angle": 0, "baseline": "middle", "offset": 6, "dx": 17, "dy": 16},
  "data": {"name": "m"}, "transform": [{"filter": {"field": "p", "equal": "I"}}, {"fold": ["NCC", "GBL", "GB", "GL"], "as": ["s", "v"]}],
  "mark": {"type": "line", "interpolate": "monotone", "strokeWidth": 2.5, "point": {"filled": true, "size": 24}},
  "encoding": {
   "x": {"field": "d", "type": "temporal", "scale": {"type": "utc", "domain": [{"year": 2018, "month": 10, "date": 2, "utc": true}, {"year": 2020, "month": 10, "date": 21, "utc": true}]}, "axis": {"values": [{"year": 2018, "month": 10, "date": 2, "utc": true}, {"year": 2019, "month": 2, "date": 4, "utc": true}, {"year": 2019, "month": 6, "date": 9, "utc": true}, {"year": 2019, "month": 10, "date": 12, "utc": true}, {"year": 2020, "month": 2, "date": 14, "utc": true}, {"year": 2020, "month": 6, "date": 18, "utc": true}, {"year": 2020, "month": 10, "date": 21, "utc": true}], "labels": false, "title": null}},
   "y": {"field": "v", "type": "quantitative", "scale": {"domain": [0, 50], "nice": false}, "axis": {"values": [0, 10, 20, 30, 40, 50], "title": ["Soil temperature", "(°C)"]}},
   "color": {"field": "s", "type": "nominal", "scale": {"domain": ["NCC", "GBL", "GB", "GL"], "range": ["#000000", "#5BB5E6", "#D2661C", "#D2661C"]}, "legend": null},
   "strokeDash": {"field": "s", "type": "nominal", "scale": {"domain": ["NCC", "GBL", "GB", "GL"], "range": [[1, 0], [1, 0], [1, 0], [6, 4]]}, "legend": null}
  }},
 {"width": 725, "height": 183,
  "title": {"text": "J", "orient": "left", "anchor": "end", "angle": 0, "baseline": "middle", "offset": 6, "dx": -2, "dy": 16},
  "data": {"name": "m"}, "transform": [{"filter": {"field": "p", "equal": "J"}}, {"fold": ["NCC", "GBL", "GB", "GL"], "as": ["s", "v"]}],
  "mark": {"type": "line", "interpolate": "monotone", "strokeWidth": 2.5, "point": {"filled": true, "size": 24}},
  "encoding": {
   "x": {"field": "d", "type": "temporal", "scale": {"type": "utc", "domain": [{"year": 2018, "month": 10, "date": 2, "utc": true}, {"year": 2020, "month": 10, "date": 21, "utc": true}]}, "axis": {"values": [{"year": 2018, "month": 10, "date": 2, "utc": true}, {"year": 2019, "month": 2, "date": 4, "utc": true}, {"year": 2019, "month": 6, "date": 9, "utc": true}, {"year": 2019, "month": 10, "date": 12, "utc": true}, {"year": 2020, "month": 2, "date": 14, "utc": true}, {"year": 2020, "month": 6, "date": 18, "utc": true}, {"year": 2020, "month": 10, "date": 21, "utc": true}], "format": "%-m/%-d/%y", "title": "Date", "titlePadding": 4, "labelPadding": 4}},
   "y": {"field": "v", "type": "quantitative", "scale": {"domain": [0, 50], "nice": false}, "axis": {"values": [0, 10, 20, 30, 40, 50], "title": "Air temperature (°C)"}},
   "color": {"field": "s", "type": "nominal", "scale": {"domain": ["NCC", "GBL", "GB", "GL"], "range": ["#000000", "#5BB5E6", "#D2661C", "#D2661C"]}, "legend": null},
   "strokeDash": {"field": "s", "type": "nominal", "scale": {"domain": ["NCC", "GBL", "GB", "GL"], "range": [[1, 0], [1, 0], [1, 0], [6, 4]]}, "legend": null}
  }}
],
"spacing": 27, "bounds": "flush",
"resolve": {"scale": {"x": "independent", "y": "independent", "color": "independent", "strokeDash": "independent"}, "legend": {"color": "independent", "strokeDash": "independent"}}
}
]
}
